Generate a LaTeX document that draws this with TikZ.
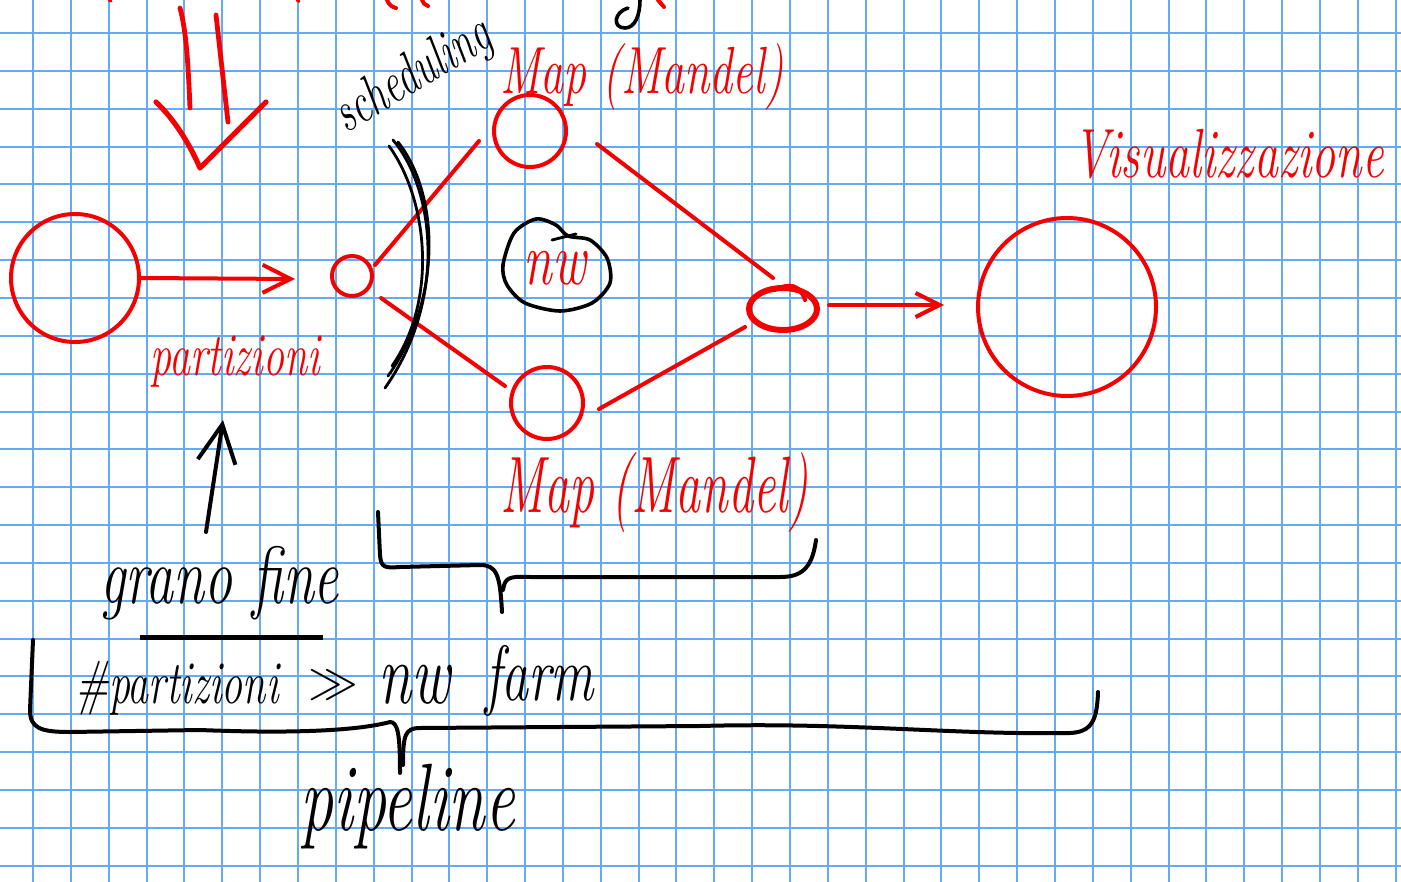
\documentclass[tikz,border=0pt]{standalone}
\usepackage{graphicx}
\usetikzlibrary{arrows.meta,shapes.geometric}
\definecolor{gridblue}{RGB}{100,170,245}
\definecolor{ink}{RGB}{245,0,0}
% handwritten-looking label: italic, stretched vertically
\newcommand{\handtxt}[2][1.45]{\scalebox{1}[#1]{\itshape #2}}
\tikzset{
  gridline/.style={draw=gridblue, line width=1pt},
  redline/.style={draw=ink, line width=2pt, line cap=round, line join=round},
  blackline/.style={draw=black, line width=2pt, line cap=round, line join=round},
  thinblack/.style={draw=black, line width=1.4pt, line cap=round},
  redring/.style={circle, draw=ink, line width=2pt, inner sep=0pt},
  redlabel/.style={text=ink, inner sep=0pt},
  blacklabel/.style={text=black, inner sep=0pt},
  barb/.style={-{Straight Barb[length=#1, width=#1]}},
}
\begin{document}
\begin{tikzpicture}[x=0.5pt, y=-0.5pt]
\useasboundingbox[fill=white] (0,0) rectangle (1401,882);

% squared paper
\foreach \k in {0,...,36} \draw[gridline] ({33+37.85*\k},0) -- ({33+37.85*\k},882);
\foreach \k in {0,...,22} \draw[gridline] (0,{33+37.85*\k}) -- (1401,{33+37.85*\k});

% stages of the pipeline
\node[redring, minimum size=64pt] (src) at (75,278) {};
\node[redring, minimum size=20pt] (split) at (352,276) {};
\node[redring, minimum size=36pt] (mapA) at (530,131) {};
\node[redring, minimum size=36pt] (mapB) at (547,403) {};
\node[ellipse, draw=ink, line width=3pt, minimum width=34pt, minimum height=21pt, inner sep=0pt] (merge) at (783,309) {};
\draw[ink, line width=2pt, line cap=round] (775,290) .. controls (790,282) and (800,285) .. (805,300);
\node[redring, minimum size=89pt] (vis) at (1067,307) {};

% connector end points
\coordinate (inTip) at (295,279);
\coordinate (sA) at (375,265);  \coordinate (tA) at (479,141);
\coordinate (sB) at (381,298);  \coordinate (tB) at (505,386);
\coordinate (uA) at (597,144);  \coordinate (vA) at (773,278);
\coordinate (uB) at (599,409);  \coordinate (vB) at (745,327);
\coordinate (outStart) at (829,305); \coordinate (outTip) at (944,305);

\draw[redline, barb=14pt] (src.east) -- (inTip);
\draw[redline] (sA) -- (tA);
\draw[redline] (sB) -- (tB);
\draw[redline] (uA) -- (vA);
\draw[redline] (uB) -- (vB);
\draw[redline, barb=12pt] (outStart) -- (outTip);

% scheduler bracket (three overlapping strokes)
\draw[thinblack] (393,140) .. controls (435,190) and (447,300) .. (385,388);
\draw[thinblack] (389,146) .. controls (428,200) and (438,300) .. (392,366);
\draw[thinblack] (398,142) .. controls (440,195) and (442,300) .. (388,376);

% nw bubble
\draw[black, line width=1.8pt] plot[smooth cycle] coordinates
  {(503,265) (514,233) (536,219) (556,225) (568,236) (590,240) (607,258) (610,283) (592,303) (560,311) (525,303) (507,285)};
\draw[black, line width=1.4pt, line cap=round] (552,240) -- (576,234);
\node[redlabel, anchor=base, font=\fontsize{26}{30}\selectfont] (nwin) at (555,284) {\handtxt{nw}};

% big double arrow at the top
\draw[redline, line width=2.4pt] (180,8) .. controls (186,30) and (188,60) .. (190,108);
\draw[redline, line width=2.4pt] (216,15) -- (228,122);
\draw[redline, line width=2.6pt] (156,102) .. controls (175,120) and (190,145) .. (200,168) -- (266,102);

% cut-off strokes along the top edge
\draw[redline, line width=1.5pt] (109,0) -- (111,1);
\draw[redline, line width=1.5pt] (297,0) -- (299,1.5);
\draw[redline] (387,0) .. controls (389,5) and (392,7) .. (396,8);
\draw[redline] (422,0) .. controls (423,3) and (425,5) .. (428,6);
\draw[blackline, line width=1.8pt] (640,0) .. controls (640,15) and (635,28) .. (625,28) .. controls (612,28) and (614,12) .. (628,8);
\draw[redline] (658,0) -- (664,7);

% up arrow to the partitions
\coordinate (upFoot) at (206,532); \coordinate (upTip) at (223,420);
\draw[blackline, barb=19pt] (upFoot) -- (upTip);

% brace under the map stages
\draw[blackline] (378,512) -- (380,555) .. controls (381,568) and (385,568) .. (400,567) -- (480,565) .. controls (497,565) and (500,575) .. (502,612);
\draw[blackline] (503,590) .. controls (505,578) and (508,576) .. (530,577) -- (780,577) .. controls (800,577) and (812,570) .. (816,540);

% brace over the whole pipeline
\draw[blackline] (33,640) -- (30,710) .. controls (30,728) and (40,732) .. (70,732) -- (200,730) .. controls (300,734) and (360,730) .. (390,722) .. controls (398,722) and (400,735) .. (400,773);
\draw[blackline] (403,765) .. controls (403,735) and (405,728) .. (420,728) -- (700,726) .. controls (850,722) and (950,735) .. (1070,733) .. controls (1092,732) and (1097,720) .. (1098,692);

% underline of "grano fine"
\draw[black, line width=2.5pt] (140,637) -- (323,637);

% labels
\node[redlabel, anchor=base west, font=\fontsize{24}{28}\selectfont] (visLbl) at (1073,178) {\handtxt{Visualizzazione}};
\node[redlabel, anchor=base west, font=\fontsize{23}{28}\selectfont] (mapALbl) at (500,94) {\handtxt[1.45]{Map (Mandel)}};
\node[redlabel, anchor=base west, font=\fontsize{25}{30}\selectfont] (mapBLbl) at (500,512) {\handtxt[1.6]{Map (Mandel)}};
\node[blacklabel, anchor=base west, rotate=31, font=\fontsize{20}{24}\selectfont] (schedLbl) at (346,134) {\handtxt{scheduling}};
\node[redlabel, anchor=base west, font=\fontsize{21}{25}\selectfont] (partLbl) at (150,375) {\handtxt{partizioni}};
\node[blacklabel, anchor=base west, font=\fontsize{28}{32}\selectfont] (grainLbl) at (100,603) {\handtxt{grano fine}};
\node[blacklabel, anchor=base west, font=\fontsize{21}{26}\selectfont] (countLbl) at (75,703) {\handtxt{\#partizioni}};
\node[blacklabel, font=\fontsize{38}{44}\selectfont] (ggLbl) at (333,685) {$\gg$};
\node[blacklabel, anchor=base west, font=\fontsize{30}{36}\selectfont] (nwLbl) at (378,703) {\handtxt{nw}};
\node[blacklabel, anchor=base west, font=\fontsize{27}{32}\selectfont] (farmLbl) at (485,700) {\handtxt{farm}};
\node[blacklabel, anchor=base west, font=\fontsize{33}{38}\selectfont] (pipeLbl) at (300,830) {\handtxt{pipeline}};
\end{tikzpicture}
\end{document}
